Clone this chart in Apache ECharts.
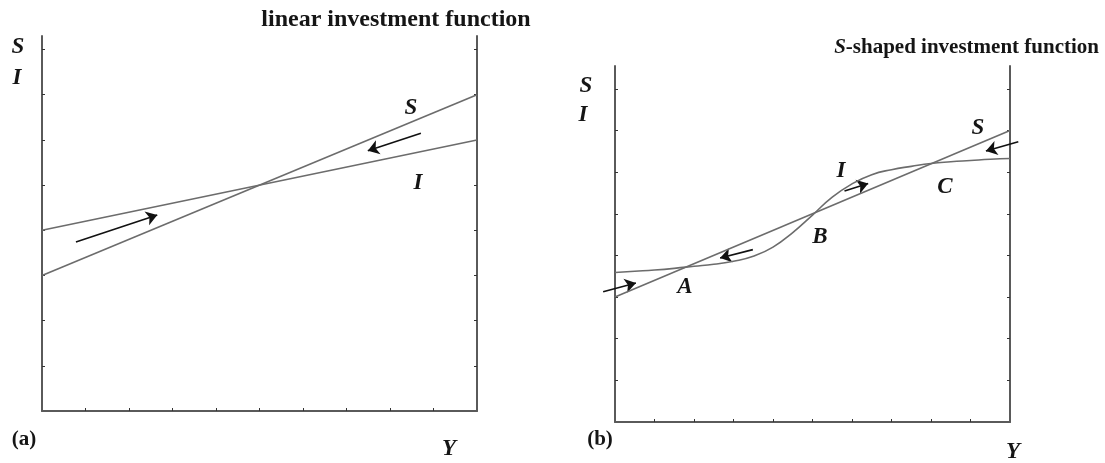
<!DOCTYPE html>
<html>
<head>
<meta charset="utf-8">
<script src="https://cdn.jsdelivr.net/npm/echarts@6/dist/echarts.min.js"></script>
<style>
  html, body { margin: 0; padding: 0; background: #fff; }
  #chart { width: 1105px; height: 463px; }
</style>
</head>
<body>
<div id="chart"></div>
<script>
// Income axis (Y) ticks and the S/I scale ticks
const xTicks = [1, 2, 3, 4, 5, 6, 7, 8, 9];
const yTicks = [1, 2, 3, 4, 5, 6, 7, 8];

// Panel (a): linear saving and investment functions
const savingA = [[0, 3], [10, 7]];
const investA = [[0, 4], [10, 6]];
// Adjustment arrows in panel (a): [tail, head]
const arrowsA = [
  [[0.78, 3.74], [2.65, 4.34]],
  [[8.71, 6.15], [7.49, 5.76]]
];

// Panel (b): linear saving, S-shaped investment
const savingB = [[0, 3], [10, 7]];
const investBx = [0, 0.5, 1, 1.5, 2, 2.5, 3, 3.5, 4, 4.5, 5, 5.5, 6, 6.5, 7, 7.5, 8, 8.5, 9, 9.5, 10];
const investBy = [3.59, 3.62, 3.65, 3.69, 3.74, 3.79, 3.86, 3.98, 4.20, 4.55, 4.97, 5.40, 5.72, 5.94, 6.06, 6.14, 6.21, 6.25, 6.28, 6.31, 6.33];
// Adjustment arrows in panel (b): [tail, head]
const arrowsB = [
  [[-0.30, 3.13], [0.53, 3.34]],
  [[3.49, 4.14], [2.66, 3.94]],
  [[5.81, 5.55], [6.41, 5.73]],
  [[10.21, 6.73], [9.39, 6.51]]
];

const AXIS_COLOR = '#5a5a5a';
const CURVE_COLOR = '#6c6c6c';
const SERIF = '"Liberation Serif", "DejaVu Serif", serif';

function xAxis(gridIndex) {
  return {
    gridIndex, type: 'value', min: 0, max: 10, interval: 1,
    axisLine: { show: true, onZero: false, lineStyle: { color: AXIS_COLOR, width: 2 } },
    axisTick: { show: true, inside: true, length: 3, customValues: xTicks, lineStyle: { color: '#333', width: 1 } },
    axisLabel: { show: false }, splitLine: { show: false }
  };
}
function yAxis(gridIndex, position, max) {
  return {
    gridIndex, type: 'value', min: 0, max, position,
    axisLine: { show: true, onZero: false, lineStyle: { color: AXIS_COLOR, width: 2 } },
    axisTick: { show: true, inside: true, length: 3, customValues: yTicks, lineStyle: { color: '#333', width: 1 } },
    axisLabel: { show: false }, splitLine: { show: false }
  };
}
function curve(name, data, xi, yi, extra) {
  return Object.assign({
    name, type: 'line', data, xAxisIndex: xi, yAxisIndex: yi,
    showSymbol: false, symbol: 'none', silent: true,
    lineStyle: { color: CURVE_COLOR, width: 1.6 }
  }, extra || {});
}
function arrows(list, xi, yi) {
  return {
    type: 'lines', coordinateSystem: 'cartesian2d', xAxisIndex: xi, yAxisIndex: yi,
    clip: false, silent: true,
    symbol: ['none', 'arrow'], symbolSize: [7, 11],
    lineStyle: { color: '#111', width: 1.6, opacity: 1, curveness: 0 },
    data: list.map(c => ({ coords: c }))
  };
}

const label = (text, x, y, size, italic, extra) => Object.assign({
  type: 'text', x, y,
  style: {
    text, fill: '#151515', font: (italic ? 'italic ' : '') + 'bold ' + size + 'px ' + SERIF,
    textAlign: 'center', textVerticalAlign: 'middle'
  }
}, extra || {});

const chart = echarts.init(document.getElementById('chart'), null, { renderer: 'canvas' });
chart.setOption({
  animation: false,
  backgroundColor: '#fff',
  grid: [
    { left: 42, right: 628, top: 36, bottom: 52 },
    { left: 615, right: 95, top: 66, bottom: 41 }
  ],
  xAxis: [xAxis(0), xAxis(1)],
  yAxis: [yAxis(0, 'left', 8.3), yAxis(0, 'right', 8.3), yAxis(1, 'left', 8.55), yAxis(1, 'right', 8.55)],
  series: [
    curve('S', savingA, 0, 0),
    curve('I', investA, 0, 0),
    arrows(arrowsA, 0, 0),
    curve('S', savingB, 1, 2),
    curve('I', investBx.map((x, i) => [x, investBy[i]]), 1, 2, { smooth: 0.5 }),
    arrows(arrowsB, 1, 2)
  ],
  graphic: [
    label('linear investment function', 396, 20, 24, false),
    {
      type: 'text', x: 1099, y: 48,
      style: {
        text: '{s|S}{t|-shaped investment function}',
        textAlign: 'right', textVerticalAlign: 'middle',
        rich: {
          s: { font: 'italic bold 21px ' + SERIF, fill: '#151515' },
          t: { font: 'bold 21px ' + SERIF, fill: '#151515' }
        }
      }
    },
    // panel (a) labels
    label('S', 18, 47, 23, true),
    label('I', 17, 78, 23, true),
    label('S', 411, 108, 23, true),
    label('I', 418, 183, 23, true),
    label('(a)', 24, 440, 21, false),
    label('Y', 449, 449, 23, true),
    // panel (b) labels
    label('S', 586, 86, 23, true),
    label('I', 583, 115, 23, true),
    label('S', 978, 128, 23, true),
    label('I', 841, 171, 23, true),
    label('C', 945, 187, 23, true),
    label('A', 685, 287, 23, true),
    label('B', 820, 237, 23, true),
    label('(b)', 600, 440, 21, false),
    label('Y', 1013, 452, 23, true)
  ]
});
</script>
</body>
</html>
